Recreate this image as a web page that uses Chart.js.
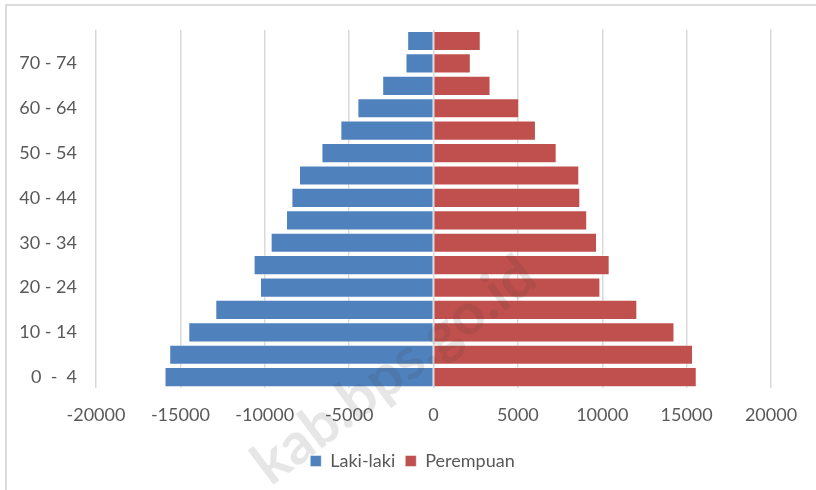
<!DOCTYPE html>
<html>
<head>
<meta charset="utf-8">
<script src="https://cdn.jsdelivr.net/npm/chart.js@4.4.1/dist/chart.umd.min.js"></script>
<style>
	html, body { margin: 0; padding: 0; background: #fff; }
	#wrap { position: relative; width: 816px; height: 490px; }
	#frame { position: absolute; left: 5px; top: 4px; right: -10px; bottom: -10px;
		border-top: 2px solid #dcdcdc; border-left: 2px solid #dcdcdc; pointer-events: none; }
	canvas { position: absolute; left: 0; top: 0; }
</style>
</head>
<body>
<div id="wrap">
	<canvas id="chart" width="816" height="490"></canvas>
	<div id="frame"></div>
</div>
<script>
// age groups, bottom to top
var ageGroups = ['0  -  4', '5 - 9', '10 - 14', '15 - 19', '20 - 24', '25 - 29', '30 - 34', '35 - 39',
	'40 - 44', '45 - 49', '50 - 54', '55 - 59', '60 - 64', '65 - 69', '70 - 74', '75+'];

// male shown on the left, so negative
var lakiLaki = [-15940, -15660, -14530, -12930, -10280, -10660, -9650, -8740,
	-8420, -7970, -6640, -5520, -4510, -3040, -1660, -1560];

var perempuan = [15600, 15380, 14280, 12080, 9890, 10440, 9690, 9110,
	8700, 8640, 7300, 6070, 5080, 3380, 2210, 2800];

var xMin = -20000, xMax = 20000, xStep = 5000;

var textColor = '#595959';
var fontFamily = 'Lato, "Open Sans", sans-serif';

var watermark = {
	id: 'watermark',
	afterLayout: function(chart) {
		// legend sits a bit right of centre in the original
		chart.legend.left += 24;
		chart.legend.right += 24;
	},
	afterDraw: function(chart) {
		var ctx = chart.ctx;
		ctx.save();
		ctx.translate(540, 284);
		ctx.rotate(-37 * Math.PI / 180);
		ctx.font = 'bold 58px ' + fontFamily;
		ctx.fillStyle = 'rgba(60,60,60,0.13)';
		ctx.textAlign = 'right';
		ctx.textBaseline = 'alphabetic';
		ctx.fillText('kab.bps.go.id', 0, 0);
		ctx.restore();
	}
};

new Chart(document.getElementById('chart'), {
	type: 'bar',
	data: {
		labels: ageGroups,
		datasets: [{
			label: 'Laki-laki',
			data: lakiLaki,
			backgroundColor: '#4F81BD',
			borderColor: 'rgba(255,255,255,0.45)',
			borderWidth: 1,
			barPercentage: 0.9,
			categoryPercentage: 1
		}, {
			label: 'Perempuan',
			data: perempuan,
			backgroundColor: '#C0504D',
			borderColor: 'rgba(255,255,255,0.45)',
			borderWidth: 1,
			barPercentage: 0.9,
			categoryPercentage: 1
		}]
	},
	options: {
		indexAxis: 'y',
		responsive: false,
		animation: false,
		layout: { padding: { left: 6, right: 45, top: 29, bottom: 10 } },
		scales: {
			x: {
				stacked: true,
				min: xMin,
				max: xMax,
				ticks: {
					stepSize: xStep,
					color: textColor,
					font: { family: fontFamily, size: 18 },
					padding: 16,
					maxRotation: 0,
					callback: function(value) { return String(value); }
				},
				grid: { color: '#d9d9d9', lineWidth: 1.5, drawTicks: false },
				border: { display: false }
			},
			y: {
				stacked: true,
				reverse: true,
				ticks: {
					autoSkip: false,
					color: textColor,
					font: { family: fontFamily, size: 18 },
					padding: 19,
					callback: function(value, index) {
						return index % 2 === 0 ? ageGroups[index] : '';
					}
				},
				grid: { display: false, drawTicks: false },
				border: { display: false },
				afterFit: function(scale) { scale.width = 90; }
			}
		},
		plugins: {
			legend: {
				position: 'bottom',
				labels: {
					color: textColor,
					font: { family: fontFamily, size: 18 },
					boxWidth: 11,
					boxHeight: 11,
					padding: 10
				}
			},
			tooltip: { enabled: false }
		}
	},
	plugins: [watermark]
});
</script>
</body>
</html>
